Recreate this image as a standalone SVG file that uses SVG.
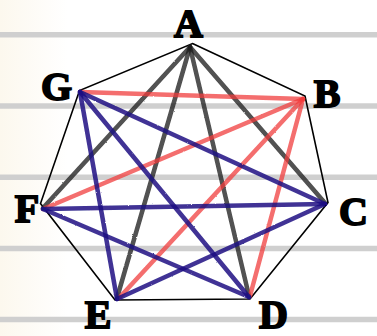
<svg xmlns="http://www.w3.org/2000/svg" width="377" height="336" viewBox="0 0 377 336">
  <defs>
    <linearGradient id="paper" x1="0" y1="0" x2="1" y2="0">
      <stop offset="0" stop-color="#fcf8ee"/>
      <stop offset="0.18" stop-color="#ffffff"/>
      <stop offset="1" stop-color="#ffffff"/>
    </linearGradient>
    <filter id="rough" x="-5%" y="-5%" width="110%" height="110%">
      <feTurbulence type="fractalNoise" baseFrequency="0.9" numOctaves="2" seed="3" result="n"/>
      <feDisplacementMap in="SourceGraphic" in2="n" scale="1.6" xChannelSelector="R" yChannelSelector="G"/>
    </filter>
  </defs>
  <style>
    .rule { stroke: #cfcfcf; stroke-width: 5.5; }
    .outline { fill: none; stroke: #000; stroke-width: 1.6; stroke-linejoin: miter; }
    .k { stroke: #1e1e1e; stroke-width: 4.5; stroke-opacity: 0.78; stroke-linecap: round; }
    .r { stroke: #f03c3c; stroke-width: 4.5; stroke-opacity: 0.75; stroke-linecap: round; }
    .b { stroke: #1c1283; stroke-width: 4.5; stroke-opacity: 0.85; stroke-linecap: round; }
    .lbl { font-family: "Liberation Serif", "DejaVu Serif", serif; font-weight: bold; font-size: 40px; fill: #000; stroke: #000; stroke-width: 1.8; stroke-linejoin: miter; text-anchor: middle; }
  </style>
  <rect x="0" y="0" width="377" height="336" fill="url(#paper)"/>
  <g id="rules">
    <line class="rule" x1="0" y1="34.7" x2="377" y2="34.7"/>
    <line class="rule" x1="0" y1="106" x2="377" y2="106"/>
    <line class="rule" x1="0" y1="177.2" x2="377" y2="177.2"/>
    <line class="rule" x1="0" y1="248.4" x2="377" y2="248.4"/>
    <line class="rule" x1="0" y1="319.5" x2="377" y2="319.5"/>
  </g>
  <g id="connectors">
    <polygon class="outline" points="192.5,43.5 305,96 328,202.5 250,299 115,300 40.5,203.5 79.5,90.5"/>
    <g filter="url(#rough)">
      <line class="k" x1="190" y1="47" x2="43" y2="208"/>
      <line class="k" x1="190" y1="47" x2="117" y2="298"/>
      <line class="k" x1="190" y1="47" x2="249" y2="296"/>
      <line class="k" x1="190" y1="47" x2="325" y2="203"/>
      <line class="r" x1="80" y1="92" x2="303" y2="99"/>
      <line class="r" x1="303" y1="99" x2="43" y2="209"/>
      <line class="r" x1="303" y1="99" x2="119" y2="298"/>
      <line class="r" x1="303" y1="99" x2="250" y2="296"/>
      <line class="b" x1="80" y1="92" x2="325" y2="204"/>
      <line class="b" x1="80" y1="92" x2="249" y2="297"/>
      <line class="b" x1="80" y1="92" x2="117" y2="299"/>
      <line class="b" x1="43" y1="209" x2="325" y2="204"/>
      <line class="b" x1="43" y1="209" x2="249" y2="297"/>
      <line class="b" x1="117" y1="299" x2="325" y2="204"/>
    </g>
  </g>
  <g id="node-A"><text class="lbl" x="188.5" y="37">A</text></g>
  <g id="node-B"><text class="lbl" x="327" y="107">B</text></g>
  <g id="node-C"><text class="lbl" x="353.5" y="225">C</text></g>
  <g id="node-D"><text class="lbl" x="273.5" y="328">D</text></g>
  <g id="node-E"><text class="lbl" x="98" y="328">E</text></g>
  <g id="node-F"><text class="lbl" x="27" y="222">F</text></g>
  <g id="node-G"><text class="lbl" x="56.5" y="100">G</text></g>
</svg>
